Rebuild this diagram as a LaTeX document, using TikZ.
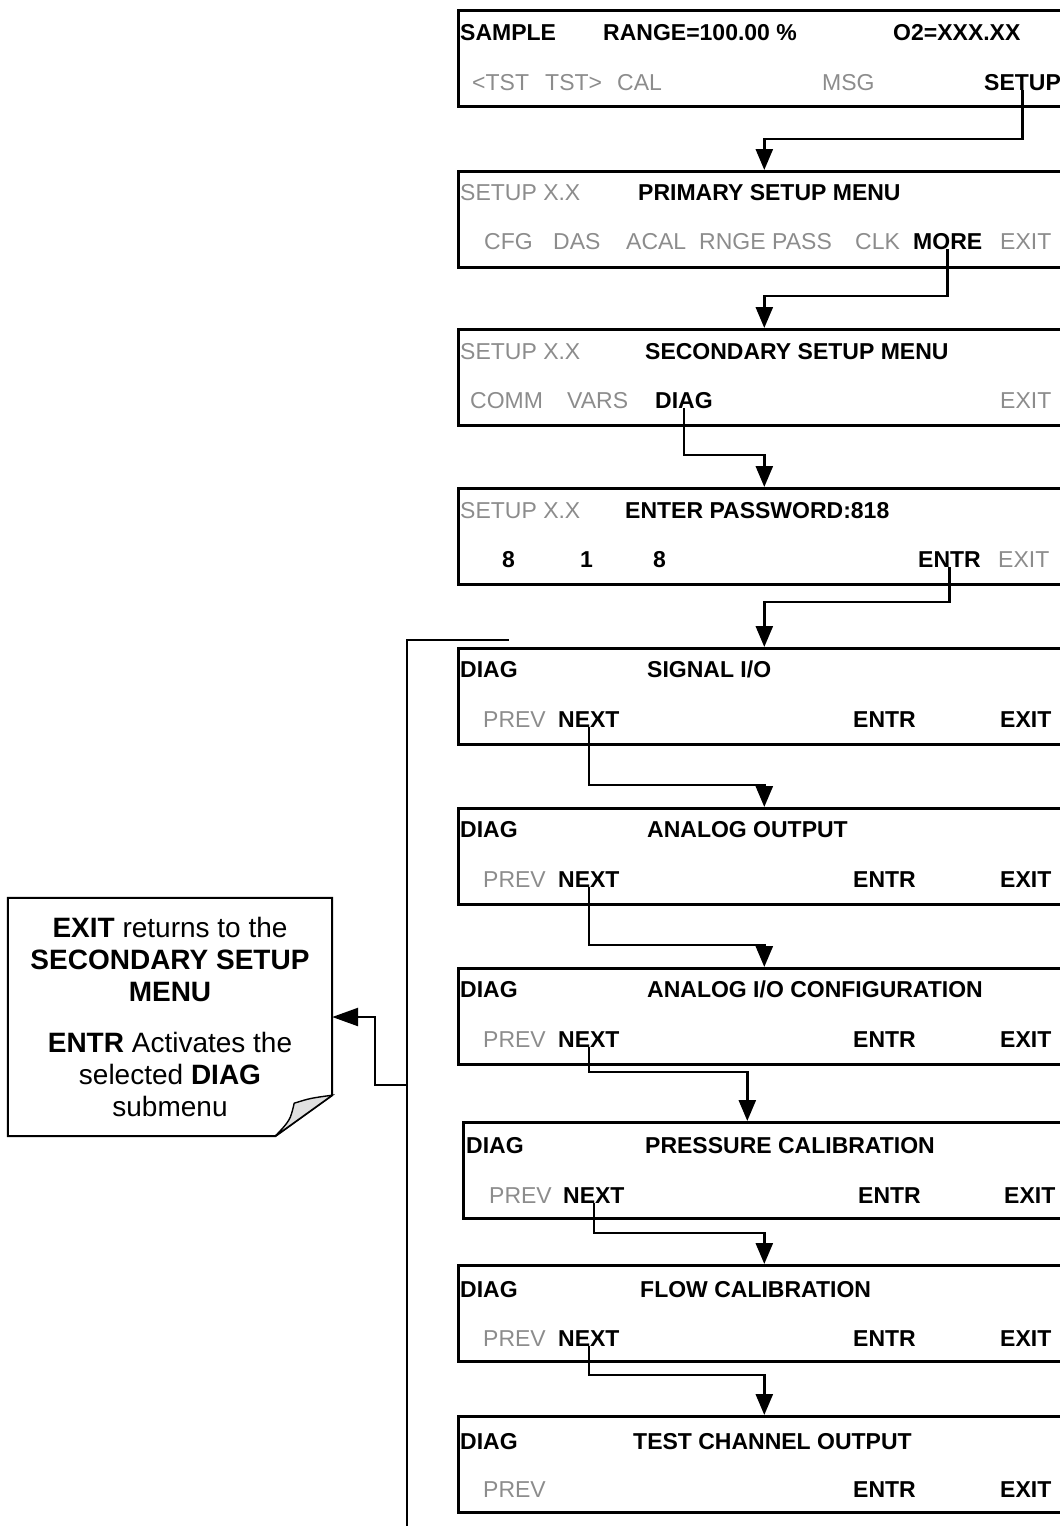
\documentclass[tikz,border=0pt]{standalone}
\usepackage{fontspec}
\setmainfont{Liberation Sans}
\usetikzlibrary{arrows.meta,positioning,calc}
\definecolor{keygray}{HTML}{8C8C8C}

\begin{document}
\begin{tikzpicture}[
  x=1pt, y=-1pt,
  panel/.style={draw=black, line width=2.6pt, minimum width=612pt,
                minimum height=96pt, anchor=north west, inner sep=0pt},
  key/.style={anchor=west, inner sep=0pt, text height=16.5pt, text depth=0pt,
              font=\fontsize{23}{27}\selectfont\bfseries, text=black},
  dim/.style={key, font=\fontsize{23}{27}\selectfont, text=keygray},
  wire/.style={line width=2.6pt, black},
  flow/.style={wire, -{Triangle[length=21pt, width=17pt]}},
  notetxt/.style={align=center, font=\fontsize{28}{32}\selectfont,
                  minimum width=324pt, minimum height=238pt, inner sep=0pt},
]
\clip (0,0) rectangle (1060,1526);

%% ---- SAMPLE ----
\node[panel] (b1) at (457,9) {};
\node[key] (sample) at (460,32) {SAMPLE};
\node[key] (range)  at (603,32) {RANGE=100.00 \%};
\node[key] (otwo)   at (893,32) {O2=XXX.XX};
\node[dim] (tstl)   at (472,82) {<TST};
\node[dim] (tstr)   at (545,82) {TST>};
\node[dim] (cal)    at (617,82) {CAL};
\node[dim] (msg)    at (822,82) {MSG};
\node[key] (setup)  at (984,82) {SETUP};

%% ---- primary setup ----
\node[panel] (b2) at (457,170) {};
\node[dim] (ver2)    at (460,192) {SETUP X.X};
\node[key] (primary) at (638,192) {PRIMARY SETUP MENU};
\node[dim] (cfg)  at (484,241) {CFG};
\node[dim] (das)  at (553,241) {DAS};
\node[dim] (acal) at (626,241) {ACAL};
\node[dim] (rnge) at (699,241) {RNGE};
\node[dim] (pass) at (772,241) {PASS};
\node[dim] (clk)  at (855,241) {CLK};
\node[key] (more) at (913,241) {MORE};
\node[dim] (exit2) at (1000,241) {EXIT};

%% ---- secondary setup ----
\node[panel] (b3) at (457,328) {};
\node[dim] (ver3)      at (460,351) {SETUP X.X};
\node[key] (secondary) at (645,351) {SECONDARY SETUP MENU};
\node[dim] (comm)  at (470,400) {COMM};
\node[dim] (vars)  at (567,400) {VARS};
\node[key] (diag3) at (655,400) {DIAG};
\node[dim] (exit3) at (1000,400) {EXIT};

%% ---- password ----
\node[panel] (b4) at (457,487) {};
\node[dim] (ver4)   at (460,510) {SETUP X.X};
\node[key] (passwd) at (625,510) {ENTER PASSWORD:818};
\node[key] (kone)   at (502,559) {8};
\node[key] (ktwo)   at (580,559) {1};
\node[key] (kthree) at (653,559) {8};
\node[key] (entr4)  at (918,559) {ENTR};
\node[dim] (exit4)  at (998,559) {EXIT};

%% ---- DIAG submenus ----
\node[panel] (b5) at (457,647) {};
\node[key] (diag5) at (460,669) {DIAG};
\node[key] (sigio) at (647,669) {SIGNAL I/O};
\node[dim] (prev5) at (483,719) {PREV};
\node[key] (next5) at (558,719) {NEXT};
\node[key] (entr5) at (853,719) {ENTR};
\node[key] (exit5) at (1000,719) {EXIT};

\node[panel] (b6) at (457,807) {};
\node[key] (diag6)  at (460,829) {DIAG};
\node[key] (anaout) at (647,829) {ANALOG OUTPUT};
\node[dim] (prev6) at (483,879) {PREV};
\node[key] (next6) at (558,879) {NEXT};
\node[key] (entr6) at (853,879) {ENTR};
\node[key] (exit6) at (1000,879) {EXIT};

\node[panel] (b7) at (457,967) {};
\node[key] (diag7)  at (460,989) {DIAG};
\node[key] (anaconf) at (647,989) {ANALOG I/O CONFIGURATION};
\node[dim] (prev7) at (483,1039) {PREV};
\node[key] (next7) at (558,1039) {NEXT};
\node[key] (entr7) at (853,1039) {ENTR};
\node[key] (exit7) at (1000,1039) {EXIT};

\node[panel] (b8) at (462,1121) {};
\node[key] (diag8)  at (466,1145) {DIAG};
\node[key] (prescal) at (645,1145) {PRESSURE CALIBRATION};
\node[dim] (prev8) at (489,1195) {PREV};
\node[key] (next8) at (563,1195) {NEXT};
\node[key] (entr8) at (858,1195) {ENTR};
\node[key] (exit8) at (1004,1195) {EXIT};

\node[panel] (b9) at (457,1264) {};
\node[key] (diag9)   at (460,1289) {DIAG};
\node[key] (flowcal) at (640,1289) {FLOW CALIBRATION};
\node[dim] (prev9) at (483,1338) {PREV};
\node[key] (next9) at (558,1338) {NEXT};
\node[key] (entr9) at (853,1338) {ENTR};
\node[key] (exit9) at (1000,1338) {EXIT};

\node[panel] (b10) at (457,1415) {};
\node[key] (diag10)  at (460,1441) {DIAG};
\node[key] (testchan) at (633,1441) {TEST CHANNEL OUTPUT};
\node[dim] (prev10) at (483,1489) {PREV};
\node[key] (entr10) at (853,1489) {ENTR};
\node[key] (exit10) at (1000,1489) {EXIT};

%% ---- key presses ----
\draw[flow] (setup.south) |- ([yshift=31pt]b2.north) -- (b2.north);
\draw[flow] (more.south)  |- ([yshift=32pt]b3.north) -- (b3.north);
\draw[flow] (diag3.south) |- ([yshift=32pt]b4.north) -- (b4.north);
\draw[flow] (entr4.south) |- ([yshift=45pt]b5.north) -- (b5.north);
\draw[flow] (next5.south) |- ([yshift=22pt]b6.north) -- (b6.north);
\draw[flow] (next6.south) |- ([yshift=22pt]b7.north) -- (b7.north);
\draw[flow] (next7.south) |- ([xshift=-22pt,yshift=49pt]b8.north)
  -- ([xshift=-22pt]b8.north);
\draw[flow] (next8.south) |- ([yshift=31pt]b9.north) -- (b9.north);
\draw[flow] (next9.south) |- ([yshift=40pt]b10.north) -- (b10.north);

%% ---- note ----
\node[notetxt] (note) at (170,1017)
  {\textbf{EXIT} returns to the\\ \textbf{SECONDARY SETUP}\\ \textbf{MENU}\\[19pt]
   \textbf{ENTR} Activates the\\ selected \textbf{DIAG}\\ submenu};
\draw[line width=2pt] (note.north west) -- (note.north east)
  -- ([yshift=41pt]note.south east) -- ([xshift=-57pt]note.south east)
  -- (note.south west) -- cycle;
\draw[line width=1.4pt, fill=black!12] ([yshift=41pt]note.south east)
  .. controls ([xshift=-22pt,yshift=38pt]note.south east) .. ([xshift=-38pt,yshift=33pt]note.south east)
  .. controls ([xshift=-42pt,yshift=16pt]note.south east) .. ([xshift=-57pt]note.south east) -- cycle;

%% ---- return line ----
\coordinate (loopin)   at (509,640);
\coordinate (loopturn) at (407,640);
\coordinate (loopfork) at (407,1085);
\coordinate (loopend)  at (407,1530);
\draw[wire] (loopin) -- (loopturn) -- (loopend);
\draw[wire, -{Triangle[length=26pt, width=18pt]}]
  (loopfork) -- ++(-32,0) |- (note.east);

\end{tikzpicture}
\end{document}
